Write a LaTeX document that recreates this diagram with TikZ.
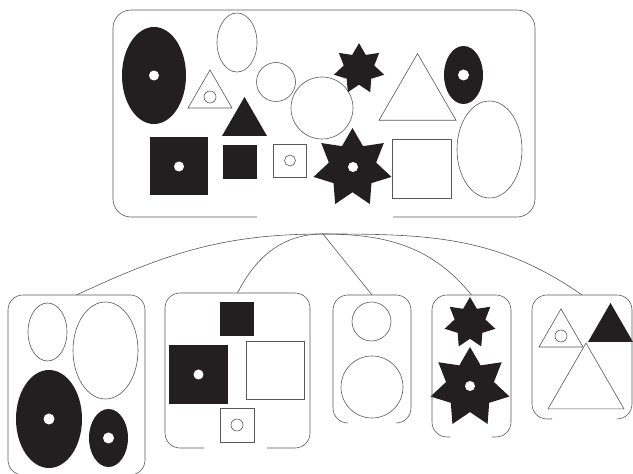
\documentclass[tikz,border=0pt]{standalone}
\usepackage{tikz}
\usetikzlibrary{shapes.geometric,calc}
\definecolor{ink}{HTML}{231F20}

\tikzset{
  frame/.style={draw=black!65, line width=0.6pt, rounded corners=15pt},
  link/.style={draw=black!65, line width=0.6pt},
  box/.style={rectangle, inner sep=0pt, outer sep=0pt},
  fig/.style={draw=black!65, line width=0.6pt, fill=white, inner sep=0pt, outer sep=0pt},
  blk/.style={fill=ink, draw=none, inner sep=0pt, outer sep=0pt},
  hole/.style={circle, fill=white, inner sep=0pt, minimum size=10pt},
  ring/.style={circle, draw=black!65, line width=0.6pt, inner sep=0pt, minimum size=12pt},
  oval/.style 2 args={ellipse, minimum width=#1, minimum height=#2},
  sq/.style={rectangle, minimum size=#1},
  tri/.style={regular polygon, regular polygon sides=3, minimum size=#1},
  sevenstar/.style={star, star points=7, star point ratio=1.65, minimum size=#1}
}

\begin{document}
\begin{tikzpicture}[x=1pt,y=1pt]
\useasboundingbox (0,0) rectangle (633,474);

% the whole set
\node[box, minimum width=422pt, minimum height=207pt] (top) at (324,360.5) {};
\node[fig, oval={40pt}{59pt}] (e2) at (237,431.5) {};
\node[fig, circle, minimum size=39pt] (c1) at (276,392) {};
\node[fig, circle, minimum size=62pt] (c2) at (322,366) {};
\node[blk, oval={64pt}{97pt}] (e1) at (154,398.5) {};
\node[hole] (e1h) at (e1) {};
\node[fig, tri=50.8pt] (t1) at (210,378.7) {};
\node[ring] (t1r) at (210,377) {};
\node[blk, tri=52pt] (t2) at (244.5,351) {};
\node[blk, sq=58pt] (s1) at (179,307.5) {};
\node[hole] (s1h) at (s1) {};
\node[blk, sq=34pt] (s2) at (240,312) {};
\node[fig, sq=33pt] (s3) at (290,313.5) {};
\node[ring, minimum size=11pt] (s3r) at (s3) {};
\node[blk, sevenstar=51.6pt] (st1) at (359,405) {};
\node[blk, sevenstar=80pt] (st2) at (352.5,306) {};
\node[hole] (st2h) at (353,307) {};
\node[fig, tri=88.9pt] (t3) at (417.5,376) {};
\node[blk, oval={39pt}{58pt}] (e3) at (463.5,399) {};
\node[hole, minimum size=11pt] (e3h) at (e3) {};
\node[fig, oval={65pt}{97pt}] (e4) at (489.5,324.5) {};
\node[fig, sq=59pt] (s4) at (421.5,305.5) {};

% the parts
\node[box, minimum width=137pt, minimum height=180pt] (g1) at (76.5,89) {};
\node[box, minimum width=145pt, minimum height=155pt] (g2) at (237.5,103.5) {};
\node[box, minimum width=78pt, minimum height=128pt] (g3) at (372,115) {};
\node[box, minimum width=79pt, minimum height=142pt] (g4) at (471.5,108) {};
\node[box, minimum width=100pt, minimum height=124pt] (g5) at (582,117) {};

\node[fig, oval={39pt}{58pt}] (g1e1) at (47.5,142) {};
\node[fig, oval={65pt}{97pt}] (g1e2) at (105.5,123.5) {};
\node[blk, oval={66pt}{98pt}] (g1e3) at (49,55) {};
\node[hole, minimum size=11pt] (g1e3h) at (g1e3) {};
\node[blk, oval={39pt}{58pt}] (g1e4) at (108.5,36) {};
\node[hole, minimum size=11pt] (g1e4h) at (g1e4) {};

\node[blk, sq=34pt] (g2s1) at (237,154.5) {};
\node[blk, sq=59pt] (g2s2) at (198.5,99.5) {};
\node[hole] (g2s2h) at (g2s2) {};
\node[fig, sq=58pt] (g2s3) at (275.5,103.5) {};
\node[fig, sq=34pt] (g2s4) at (237,49) {};
\node[ring] (g2s4r) at (g2s4) {};

\node[fig, circle, minimum size=39pt] (g3c1) at (371.5,152.5) {};
\node[fig, circle, minimum size=62pt] (g3c2) at (372,87) {};

\node[blk, sevenstar=52pt] (g4st1) at (470,151) {};
\node[blk, sevenstar=81pt] (g4st2) at (470,86.5) {};
\node[hole] (g4st2h) at (470,88) {};

\node[fig, tri=50.8pt] (g5t1) at (561,139.7) {};
\node[ring] (g5t1r) at (561,138) {};
\node[fig, tri=87.8pt] (g5t3) at (586,87) {};
\node[blk, tri=52pt] (g5t2) at (610.5,145) {};

% open frames
\draw[frame, rounded corners=18pt] ($(top.south west)+(144,0)$) -- (top.south west) -- (top.north west) -- (top.north east) -- (top.south east) -- ($(top.south east)+(-142,0)$);
\draw[frame] ($(g1.south west)+(40,0)$) -- (g1.south west) -- (g1.north west) -- (g1.north east) -- (g1.south east) -- ($(g1.south east)+(-40,0)$);
\draw[frame] ($(g2.south west)+(39,0)$) -- (g2.south west) -- (g2.north west) -- (g2.north east) -- (g2.south east) -- ($(g2.south east)+(-43,0)$);
\draw[frame] ($(g3.south west)+(15,0)$) -- (g3.south west) -- (g3.north west) -- (g3.north east) -- (g3.south east) -- ($(g3.south east)+(-15,0)$);
\draw[frame] ($(g4.south west)+(18,0)$) -- (g4.south west) -- (g4.north west) -- (g4.north east) -- (g4.south east) -- ($(g4.south east)+(-19,0)$);
\draw[frame] ($(g5.south west)+(20,0)$) -- (g5.south west) -- (g5.north west) -- (g5.north east) -- (g5.south east) -- ($(g5.south east)+(-15,0)$);

% split lines
\coordinate (root) at (323,240);
\draw[link] (root) to[out=180,in=25] (g1.north);
\draw[link] (root) to[out=180,in=63] (g2.north);
\draw[link] (root) -- (g3.north);
\draw[link] (root) to[out=0,in=129] (g4.north);
\draw[link] (root) to[out=0,in=145] (g5.north);
\end{tikzpicture}
\end{document}
